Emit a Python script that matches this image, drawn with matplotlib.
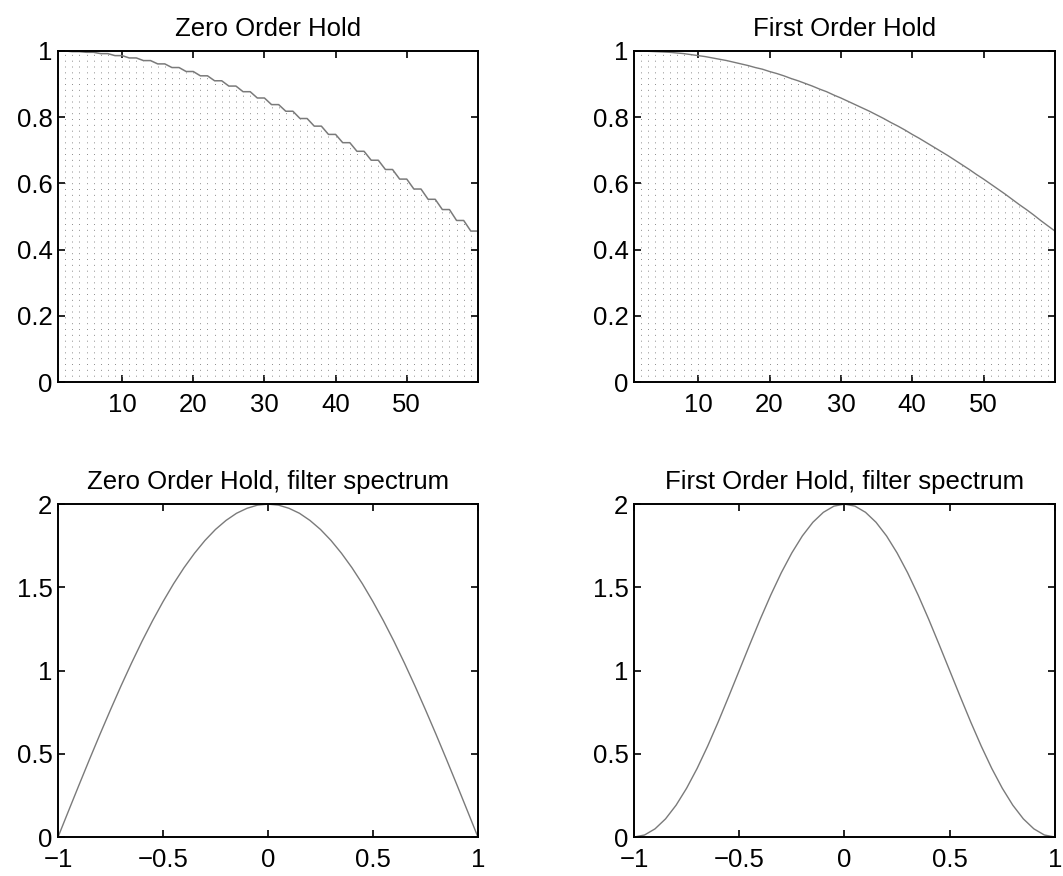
import matplotlib
matplotlib.use('Agg')
import matplotlib.pyplot as plt
import numpy as np
from matplotlib.ticker import FuncFormatter

plt.rcParams['font.family'] = ['Liberation Sans', 'DejaVu Sans']

# samples n = 1..60
n = np.arange(1, 61)
foh = [1.000, 1.000, 0.999, 0.998, 0.997, 0.996, 0.994, 0.992, 0.989, 0.986,
       0.983, 0.979, 0.975, 0.971, 0.966, 0.961, 0.956, 0.950, 0.945, 0.938,
       0.932, 0.925, 0.917, 0.910, 0.902, 0.894, 0.885, 0.877, 0.867, 0.858,
       0.848, 0.838, 0.828, 0.818, 0.807, 0.796, 0.784, 0.773, 0.761, 0.748,
       0.736, 0.723, 0.710, 0.697, 0.684, 0.670, 0.656, 0.642, 0.627, 0.613,
       0.598, 0.583, 0.568, 0.552, 0.536, 0.521, 0.505, 0.488, 0.472, 0.456]

# zero order hold levels, each held for two samples
zoh_levels = [1.000, 0.998, 0.996, 0.992, 0.986, 0.979, 0.971, 0.961, 0.950, 0.938,
              0.925, 0.910, 0.894, 0.877, 0.858, 0.838, 0.818, 0.796, 0.773, 0.748,
              0.723, 0.697, 0.670, 0.642, 0.613, 0.583, 0.552, 0.521, 0.488, 0.456]
zoh = np.repeat(zoh_levels, 2)

# filter spectra
freq = np.linspace(-1, 1, 41)
zoh_spec = [0.000, 0.157, 0.313, 0.467, 0.618, 0.765, 0.908, 1.045, 1.176, 1.299,
            1.414, 1.521, 1.618, 1.705, 1.782, 1.848, 1.902, 1.945, 1.975, 1.994,
            2.000,
            1.994, 1.975, 1.945, 1.902, 1.848, 1.782, 1.705, 1.618, 1.521, 1.414,
            1.299, 1.176, 1.045, 0.908, 0.765, 0.618, 0.467, 0.313, 0.157, 0.000]
foh_spec = [0.000, 0.012, 0.049, 0.109, 0.191, 0.293, 0.412, 0.546, 0.691, 0.844,
            1.000, 1.156, 1.309, 1.454, 1.588, 1.707, 1.809, 1.891, 1.951, 1.988,
            2.000,
            1.988, 1.951, 1.891, 1.809, 1.707, 1.588, 1.454, 1.309, 1.156, 1.000,
            0.844, 0.691, 0.546, 0.412, 0.293, 0.191, 0.109, 0.049, 0.012, 0.000]

line_col = '#7a7a7a'
stem_col = '#8c8c8c'
fs = 18.5

fig = plt.figure(figsize=(10.63, 8.76), dpi=100)
ax1 = fig.add_axes([0.0546, 0.5639, 0.395, 0.3779])
ax2 = fig.add_axes([0.5964, 0.5639, 0.396, 0.3779])
ax3 = fig.add_axes([0.0546, 0.0445, 0.395, 0.3800])
ax4 = fig.add_axes([0.5964, 0.0445, 0.396, 0.3800])

fmt = FuncFormatter(lambda v, p: ('%g' % round(v, 6)).replace('-', '\u2212'))

# top row: dotted stems plus the interpolated signal
ax1.vlines(n, 0, zoh, colors=stem_col, linestyles=(0, (1, 5)), linewidth=0.7)
ax1.plot(n, zoh, color=line_col, linewidth=1.1)
ax1.set_title('Zero Order Hold', fontsize=fs, pad=11)

ax2.vlines(n, 0, foh, colors=stem_col, linestyles=(0, (1, 5)), linewidth=0.7)
ax2.plot(n, foh, color=line_col, linewidth=1.0)
ax2.set_title('First Order Hold', fontsize=fs, pad=11)

for ax in (ax1, ax2):
    ax.set_xlim(1, 60)
    ax.set_ylim(0, 1)
    ax.set_xticks([10, 20, 30, 40, 50])
    ax.set_yticks([0, 0.2, 0.4, 0.6, 0.8, 1])

# bottom row: filter spectra
ax3.plot(freq, zoh_spec, color=line_col, linewidth=1.0)
ax3.set_title('Zero Order Hold, filter spectrum', fontsize=fs, pad=11)
ax4.plot(freq, foh_spec, color=line_col, linewidth=1.0)
ax4.set_title('First Order Hold, filter spectrum', fontsize=fs, pad=11)

for ax in (ax3, ax4):
    ax.set_xlim(-1, 1)
    ax.set_ylim(0, 2)
    ax.set_xticks([-1, -0.5, 0, 0.5, 1])
    ax.set_yticks([0, 0.5, 1, 1.5, 2])

for ax in (ax1, ax2, ax3, ax4):
    ax.xaxis.set_major_formatter(fmt)
    ax.yaxis.set_major_formatter(fmt)
    ax.tick_params(direction='in', top=True, right=True, length=5, width=1.2,
                   labelsize=fs)
    ax.tick_params(axis='x', pad=8)
    ax.tick_params(axis='y', pad=4)
    for s in ax.spines.values():
        s.set_linewidth(1.4)

fig.savefig('out.png', dpi=100)
